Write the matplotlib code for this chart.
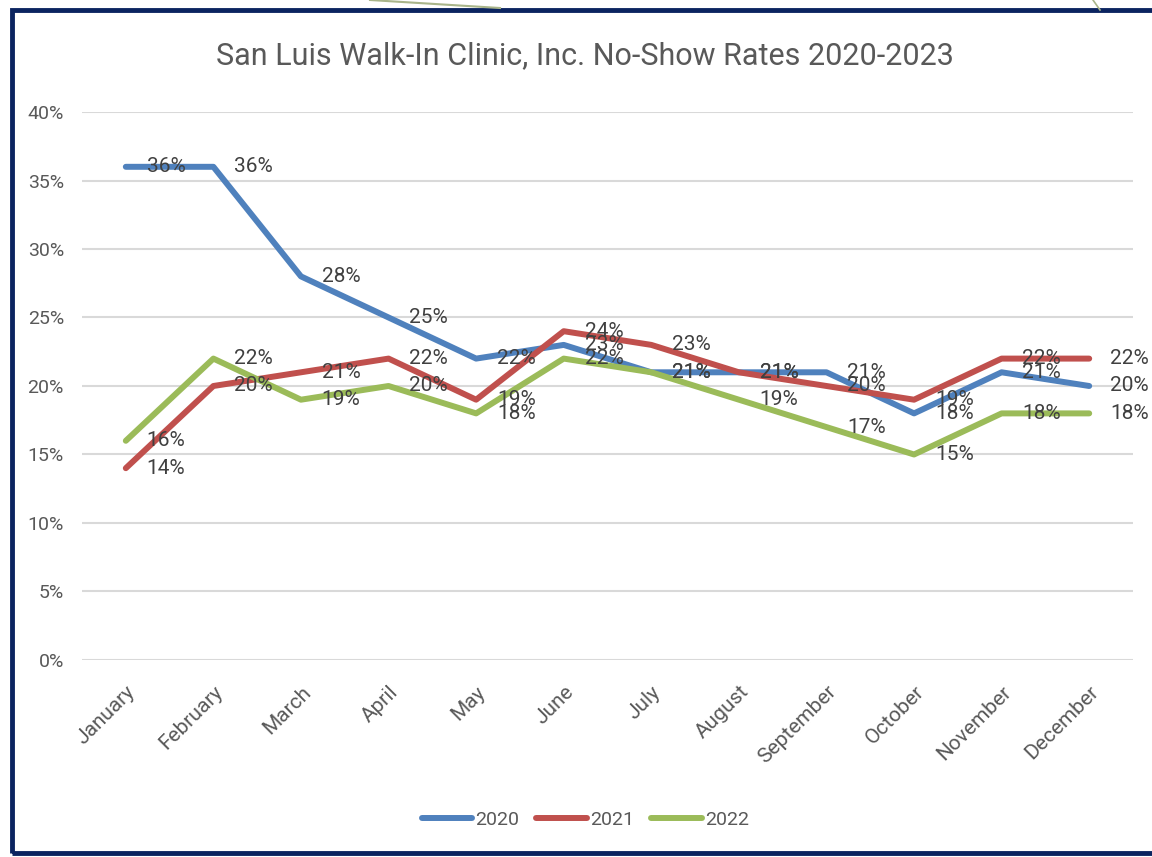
import matplotlib.pyplot as plt
from matplotlib.lines import Line2D
from matplotlib.patches import Rectangle
from matplotlib.ticker import PercentFormatter

months = ["January", "February", "March", "April", "May", "June", "July",
          "August", "September", "October", "November", "December"]
years = ["2020", "2021", "2022"]
rates_2020 = [36, 36, 28, 25, 22, 23, 21, 21, 21, 18, 21, 20]
rates_2021 = [14, 20, 21, 22, 19, 24, 23, 21, 20, 19, 22, 22]
rates_2022 = [16, 22, 19, 20, 18, 22, 21, 19, 17, 15, 18, 18]
colors = ["#4F81BD", "#C0504D", "#9BBB59"]

plt.rcParams['font.family'] = ['Roboto', 'DejaVu Sans']
text_col = "#595959"

fig = plt.figure(figsize=(11.52, 8.57), dpi=100)
ax = fig.add_axes([0.0712, 0.2299, 0.9123, 0.6394])

x = list(range(len(months)))
for year, vals, c in zip(years, [rates_2020, rates_2021, rates_2022], colors):
    ax.plot(x, vals, color=c, lw=4.3, label=year, solid_capstyle='round')
    for xi, v in zip(x, vals):
        ax.annotate(f"{v}%", (xi, v), xytext=(15, 0), textcoords='offset points',
                    ha='left', va='center', fontsize=15, color="#404040")

ax.set_xlim(-0.5, 11.5)
ax.set_ylim(0, 40)
ax.set_yticks(range(0, 41, 5))
ax.yaxis.set_major_formatter(PercentFormatter(decimals=0))
ax.grid(axis='y', color="#D9D9D9", lw=1.5)
ax.set_axisbelow(True)
for s in ax.spines.values():
    s.set_visible(False)
ax.tick_params(axis='both', length=0, labelsize=14, labelcolor=text_col)
ax.tick_params(axis='y', pad=13)
ax.set_xticks(x)
ax.set_xticklabels(months, rotation=45, ha='right', rotation_mode='anchor')
ax.tick_params(axis='x', pad=16, labelsize=15)

fig.text(0.508, 0.935, "San Luis Walk-In Clinic, Inc. No-Show Rates 2020-2023",
         ha='center', va='center', fontsize=22, color=text_col)

handles = [Line2D([], [], color=c, lw=4.3, solid_capstyle='round') for c in colors]
fig.legend(handles, years, loc='center', bbox_to_anchor=(0.508, 0.043), ncol=3,
           frameon=False, fontsize=14, handlelength=2.6, handletextpad=0.15,
           columnspacing=0.9, labelcolor=text_col)

# navy frame around the chart
fig.patches.append(Rectangle((12 / 1152, 4 / 857), 1.2, 1 - 14 / 857,
                             transform=fig.transFigure, fill=False,
                             edgecolor="#0B2460", lw=3.5, clip_on=False))
# faint decorative lines from the slide background
fig.add_artist(Line2D([370 / 1152, 500 / 1152], [1.0, 1 - 8 / 857],
                      transform=fig.transFigure, color="#A9B58A", lw=1.5))
fig.add_artist(Line2D([1093 / 1152, 1100 / 1152], [1.0, 1 - 10 / 857],
                      transform=fig.transFigure, color="#A9B58A", lw=1.2))

fig.savefig("out.png", dpi=100)
